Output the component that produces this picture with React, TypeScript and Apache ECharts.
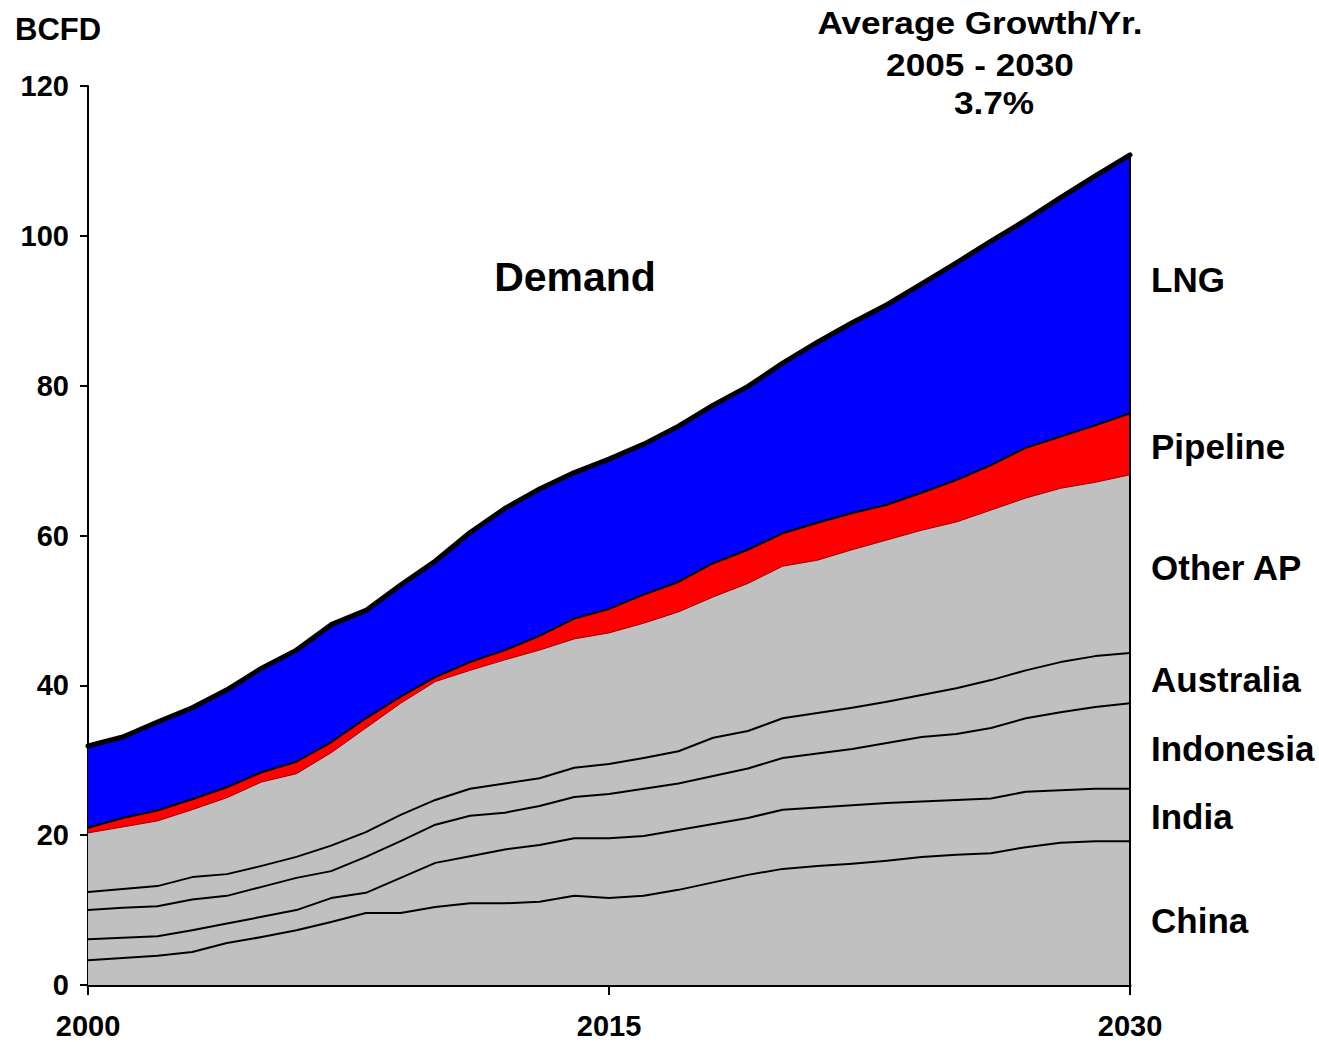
import React, { useEffect, useRef } from "react";
import * as echarts from "echarts";

const years = [
  "2000", "2001", "2002", "2003", "2004", "2005", "2006", "2007", "2008", "2009",
  "2010", "2011", "2012", "2013", "2014", "2015", "2016", "2017", "2018", "2019",
  "2020", "2021", "2022", "2023", "2024", "2025", "2026", "2027", "2028", "2029", "2030",
];

const yTicks = [0, 20, 40, 60, 80, 100, 120];

const china = [3.3, 3.6, 3.9, 4.4, 5.6, 6.4, 7.3, 8.4, 9.6, 9.6, 10.4, 10.9, 10.9, 11.1, 11.9, 11.6, 11.9, 12.7, 13.7, 14.7, 15.5, 15.9, 16.2, 16.6, 17.1, 17.4, 17.6, 18.4, 19.0, 19.2, 19.2];
const india = [2.8, 2.7, 2.6, 2.9, 2.6, 2.7, 2.7, 3.2, 2.7, 4.7, 5.9, 6.3, 7.2, 7.6, 7.7, 8.0, 8.0, 8.0, 7.8, 7.6, 7.9, 7.8, 7.8, 7.7, 7.4, 7.3, 7.3, 7.4, 7.0, 7.0, 7.0];
const indonesia = [3.9, 4.0, 4.0, 4.1, 3.7, 4.0, 4.3, 3.6, 4.8, 4.9, 5.1, 5.4, 4.9, 5.2, 5.5, 5.9, 6.3, 6.2, 6.4, 6.6, 6.9, 7.2, 7.5, 8.0, 8.6, 8.8, 9.4, 9.8, 10.4, 10.9, 11.4];
const australia = [2.4, 2.5, 2.7, 3.0, 2.9, 2.8, 2.8, 3.4, 3.3, 3.5, 3.3, 3.6, 3.9, 3.7, 3.9, 4.0, 4.1, 4.3, 5.1, 5.0, 5.3, 5.4, 5.5, 5.5, 5.6, 6.1, 6.4, 6.4, 6.7, 6.8, 6.7];
const otherAP = [7.9, 8.3, 8.7, 9.0, 10.2, 11.2, 11.1, 12.4, 13.9, 14.9, 15.8, 15.8, 16.5, 17.1, 17.2, 17.5, 18.0, 18.6, 18.8, 19.7, 20.3, 20.4, 21.1, 21.6, 22.0, 22.2, 22.7, 23.0, 23.2, 23.2, 23.8];
const pipeline = [0.7, 1.2, 1.4, 1.4, 1.4, 1.3, 1.6, 1.4, 1.3, 0.9, 0.6, 1.1, 1.3, 1.9, 2.7, 3.2, 3.8, 4.0, 4.5, 4.5, 4.4, 5.0, 4.9, 4.7, 5.0, 5.6, 6.0, 6.7, 6.9, 7.6, 8.2];
const lng = [10.9, 10.8, 11.8, 12.2, 13.0, 13.9, 14.9, 15.7, 14.4, 14.9, 15.5, 17.3, 18.9, 19.6, 19.5, 20.0, 20.1, 20.8, 21.1, 21.8, 22.7, 24.1, 25.4, 26.7, 27.9, 29.0, 29.9, 30.4, 31.9, 33.3, 34.5];

const seriesNames = ["China", "India", "Indonesia", "Australia", "Other AP", "Pipeline", "LNG"];
const seriesData = [china, india, indonesia, australia, otherAP, pipeline, lng];
const seriesColors = ["#C0C0C0", "#C0C0C0", "#C0C0C0", "#C0C0C0", "#C0C0C0", "#FF0000", "#0000FF"];
const lineColors = ["#000", "#000", "#000", "#000", "#9a0000", "#000", "#000"];
const lineWidths = [2, 2, 2, 2, 1, 2, 5];

const rightLabels = [
  { text: "LNG", y: 279 },
  { text: "Pipeline", y: 446 },
  { text: "Other AP", y: 567 },
  { text: "Australia", y: 679 },
  { text: "Indonesia", y: 748 },
  { text: "India", y: 816 },
  { text: "China", y: 920 },
];

const FONT = "'Liberation Sans', Arial, Helvetica, sans-serif";

export default function App() {
  const ref = useRef<HTMLDivElement>(null);

  useEffect(() => {
    document.body.style.margin = "0";
    if (!ref.current) return;
    const chart = echarts.init(ref.current, undefined, { renderer: "svg" });

    const lastIdx = years.length - 1;
    const totalLast = seriesData.reduce((s, arr) => s + arr[lastIdx], 0);

    const series: any[] = seriesNames.map((name, i) => ({
      name,
      type: "line",
      stack: "total",
      data: seriesData[i],
      symbol: "none",
      smooth: false,
      areaStyle: { color: seriesColors[i], opacity: 1 },
      lineStyle: { color: lineColors[i], width: lineWidths[i], cap: "round", join: "round" },
      emphasis: { disabled: true },
      z: 2,
    }));

    series[0].markLine = {
      silent: true,
      symbol: ["none", "none"],
      label: { show: false },
      lineStyle: { color: "#000", width: 2, type: "solid" },
      data: [[{ coord: [years[lastIdx], 0] }, { coord: [years[lastIdx], totalLast] }]],
      z: 10,
    };

    const textStyleBase = {
      fill: "#000",
      fontFamily: FONT,
      fontWeight: "bold",
    };

    const graphic: any[] = [
      {
        type: "text",
        x: 15,
        y: 29,
        style: { ...textStyleBase, text: "BCFD", fontSize: 31, align: "left", verticalAlign: "middle" },
      },
      {
        type: "text",
        x: 980,
        y: 23,
        scaleX: 1.1,
        style: { ...textStyleBase, text: "Average Growth/Yr.", fontSize: 32, align: "center", verticalAlign: "middle" },
      },
      {
        type: "text",
        x: 980,
        y: 65,
        scaleX: 1.1,
        style: { ...textStyleBase, text: "2005 - 2030", fontSize: 32, align: "center", verticalAlign: "middle" },
      },
      {
        type: "text",
        x: 994,
        y: 103,
        scaleX: 1.1,
        style: { ...textStyleBase, text: "3.7%", fontSize: 32, align: "center", verticalAlign: "middle" },
      },
      {
        type: "text",
        x: 575,
        y: 277,
        style: { ...textStyleBase, text: "Demand", fontSize: 41, align: "center", verticalAlign: "middle" },
      },
      ...rightLabels.map((l) => ({
        type: "text",
        x: 1151,
        y: l.y,
        style: { ...textStyleBase, text: l.text, fontSize: 35, align: "left", verticalAlign: "middle" },
      })),
    ];

    chart.setOption({
      animation: false,
      backgroundColor: "#fff",
      grid: { left: 88, right: 189, top: 86, bottom: 57, containLabel: false },
      xAxis: {
        type: "category",
        data: years,
        boundaryGap: false,
        axisLine: { show: true, lineStyle: { color: "#000", width: 3 } },
        axisTick: { show: true, interval: 14, length: 10, lineStyle: { color: "#000", width: 2 } },
        axisLabel: {
          interval: 14,
          margin: 26,
          fontSize: 29,
          fontWeight: "bold",
          color: "#000",
          fontFamily: FONT,
        },
        splitLine: { show: false },
      },
      yAxis: {
        type: "value",
        min: yTicks[0],
        max: yTicks[yTicks.length - 1],
        interval: yTicks[1] - yTicks[0],
        axisLine: { show: true, lineStyle: { color: "#000", width: 2 } },
        axisTick: { show: true, length: 8, lineStyle: { color: "#000", width: 2 } },
        axisLabel: {
          margin: 19,
          fontSize: 29,
          fontWeight: "bold",
          color: "#000",
          fontFamily: FONT,
        },
        splitLine: { show: false },
      },
      series,
      graphic,
    });

    return () => {
      chart.dispose();
    };
  }, []);

  return <div ref={ref} style={{ width: 1319, height: 1042 }} />;
}
